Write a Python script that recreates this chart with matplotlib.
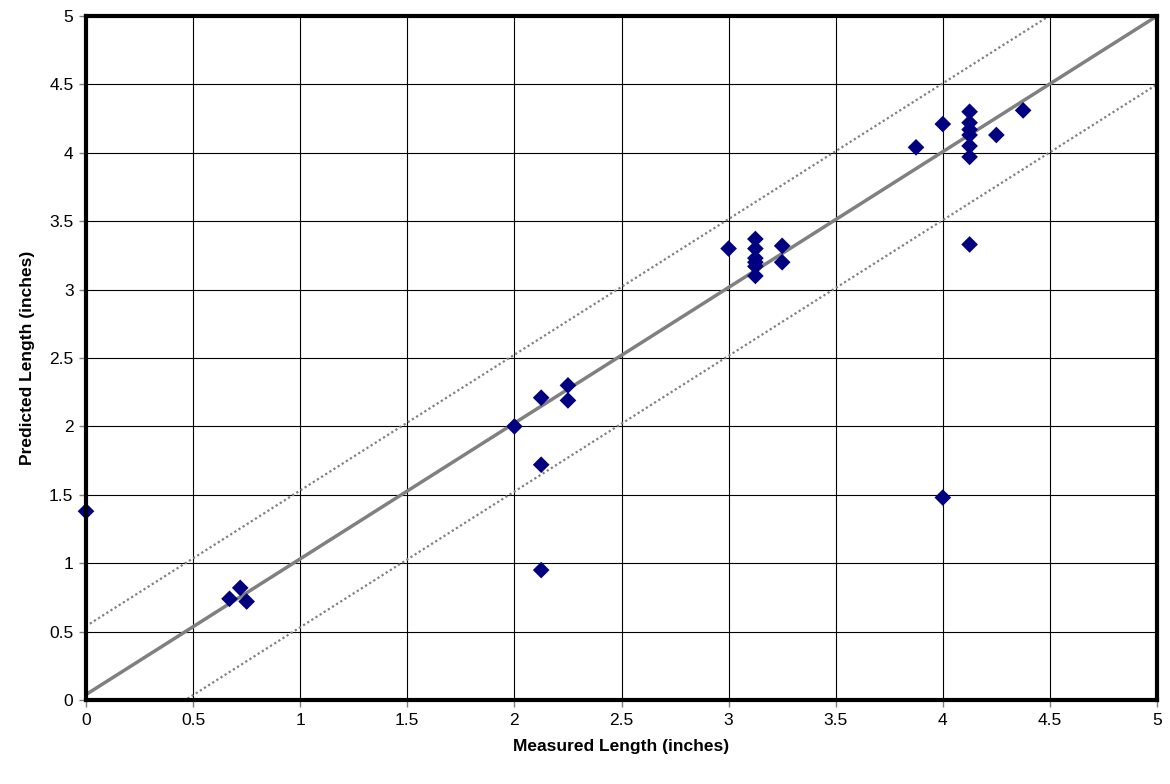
import matplotlib
matplotlib.use("Agg")
import matplotlib.pyplot as plt
import numpy as np

plt.rcParams['font.family'] = ['Liberation Sans', 'DejaVu Sans']

measured = [0.0, 0.67, 0.72, 0.75, 2.0, 2.125, 2.125, 2.125, 2.25, 2.25,
            3.0, 3.125, 3.125, 3.125, 3.125, 3.125, 3.125, 3.25, 3.25,
            3.875, 4.0, 4.0, 4.125, 4.125, 4.125, 4.125, 4.125, 4.125, 4.125,
            4.25, 4.375]
predicted = [1.38, 0.74, 0.82, 0.72, 2.0, 2.21, 1.72, 0.95, 2.30, 2.19,
             3.30, 3.37, 3.30, 3.23, 3.20, 3.17, 3.10, 3.32, 3.20,
             4.04, 4.21, 1.48, 4.30, 4.22, 4.17, 4.13, 4.05, 3.97, 3.33,
             4.13, 4.31]

fit_intercept = 0.04
fit_slope = 0.992
band = 0.5

ticks = [0, 0.5, 1, 1.5, 2, 2.5, 3, 3.5, 4, 4.5, 5]
tick_labels = ['0', '0.5', '1', '1.5', '2', '2.5', '3', '3.5', '4', '4.5', '5']

fig = plt.figure(figsize=(11.7, 7.84), dpi=100)
ax = fig.add_axes([0.0735, 0.1071, 0.9154, 0.8725])

xs = np.array([-1.0, 6.0])
ax.plot(xs, fit_intercept + fit_slope * xs, color='#808080', lw=2.5, zorder=3)
ax.plot(xs, fit_intercept + band + fit_slope * xs, color='#808080', lw=1.6,
        ls=(0, (1, 1.2)), zorder=3)
ax.plot(xs, fit_intercept - band + fit_slope * xs, color='#808080', lw=1.6,
        ls=(0, (1, 1.2)), zorder=3)

ax.scatter(measured, predicted, marker='D', s=72, color='#000080',
           edgecolors='none', zorder=4, clip_on=False)

ax.set_xlim(0, 5)
ax.set_ylim(0, 5)
ax.set_xticks(ticks)
ax.set_xticklabels(tick_labels)
ax.set_yticks(ticks)
ax.set_yticklabels(tick_labels)
ax.grid(True, color='black', lw=0.8)
ax.set_axisbelow(True)
for s in ax.spines.values():
    s.set_linewidth(3)
    s.set_color('black')
    s.set_zorder(5)
ax.tick_params(axis='both', length=5, width=1, color='#808080', labelsize=12.5,
               direction='out', pad=4)

ax.set_xlabel('Measured Length (inches)', fontsize=12.5, fontweight='bold', labelpad=8)
ax.set_ylabel('Predicted Length (inches)', fontsize=12.5, fontweight='bold', labelpad=10)

fig.savefig('out.png', dpi=100)
